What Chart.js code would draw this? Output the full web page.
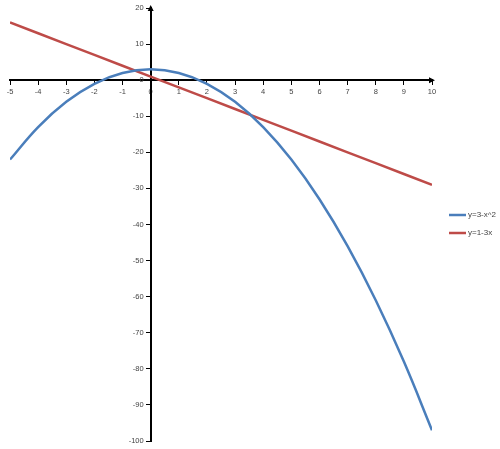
<!DOCTYPE html>
<html>
<head>
<meta charset="utf-8">
<script src="https://cdn.jsdelivr.net/npm/chart.js@4.4.1/dist/chart.umd.min.js"></script>
<style>
  html, body { margin: 0; padding: 0; background: #fff; }
  #wrap { width: 500px; height: 449px; }
</style>
</head>
<body>
<div id="wrap"><canvas id="chart"></canvas></div>
<script>
// values
const xValues = [-5, -4, -3, -2, -1, 0, 1, 2, 3, 4, 5, 6, 7, 8, 9, 10];
const parabola = [-22, -13, -6, -1, 2, 3, 2, -1, -6, -13, -22, -33, -46, -61, -78, -97];
const straight = [16, 13, 10, 7, 4, 1, -2, -5, -8, -11, -14, -17, -20, -23, -26, -29];
const seriesNames = ['y=3-x^2', 'y=1-3x'];
const xTicks = [-5, -4, -3, -2, -1, 0, 1, 2, 3, 4, 5, 6, 7, 8, 9, 10];
const yTicks = [20, 10, 0, -10, -20, -30, -40, -50, -60, -70, -80, -90, -100];

const BLUE = '#4a7ebb';
const RED = '#be4b48';
const TEXT = '#444';
const FONT = '7.5px "Liberation Sans", Arial, sans-serif';
const LEGEND_FONT = '8px "Liberation Sans", Arial, sans-serif';

const toPoints = (ys) => xValues.map((x, i) => ({ x: x, y: ys[i] }));

// arrow heads on both axes, y labels left of the crossing axis, legend on the right
const axisExtras = {
  id: 'axisExtras',
  afterDraw(chart) {
    const ctx = chart.ctx;
    const xs = chart.scales.x;
    const ys = chart.scales.y;
    const ox = xs.getPixelForValue(0);
    const oy = ys.getPixelForValue(0);
    const right = xs.getPixelForValue(xs.max);
    const top = ys.getPixelForValue(ys.max);
    ctx.save();
    ctx.fillStyle = '#000';
    ctx.beginPath();
    ctx.moveTo(right + 3, oy);
    ctx.lineTo(right - 3, oy - 3);
    ctx.lineTo(right - 3, oy + 3);
    ctx.closePath();
    ctx.fill();
    ctx.beginPath();
    ctx.moveTo(ox, top - 3);
    ctx.lineTo(ox - 3, top + 3);
    ctx.lineTo(ox + 3, top + 3);
    ctx.closePath();
    ctx.fill();

    ctx.fillStyle = TEXT;
    ctx.font = FONT;
    ctx.textAlign = 'right';
    ctx.textBaseline = 'middle';
    yTicks.forEach(v => {
      ctx.fillText(String(v), ox - 7, ys.getPixelForValue(v));
    });

    // legend
    const lx = chart.chartArea.right + 17;
    let ly = 215;
    ctx.font = LEGEND_FONT;
    ctx.textAlign = 'left';
    chart.data.datasets.forEach(ds => {
      ctx.strokeStyle = ds.borderColor;
      ctx.lineWidth = 2.5;
      ctx.beginPath();
      ctx.moveTo(lx, ly);
      ctx.lineTo(lx + 17, ly);
      ctx.stroke();
      ctx.fillStyle = TEXT;
      ctx.fillText(ds.label, lx + 19, ly);
      ly += 18;
    });
    ctx.restore();
  }
};

new Chart(document.getElementById('chart'), {
  type: 'scatter',
  data: {
    datasets: [
      {
        label: seriesNames[0],
        data: toPoints(parabola),
        borderColor: BLUE,
        backgroundColor: BLUE,
        borderWidth: 2.5,
        showLine: true,
        tension: 0.4,
        pointRadius: 0
      },
      {
        label: seriesNames[1],
        data: toPoints(straight),
        borderColor: RED,
        backgroundColor: RED,
        borderWidth: 2.5,
        showLine: true,
        tension: 0,
        pointRadius: 0
      }
    ]
  },
  options: {
    responsive: true,
    maintainAspectRatio: false,
    animation: false,
    layout: { padding: { left: 10, top: 8, bottom: 8, right: 68 } },
    scales: {
      x: {
        type: 'linear',
        position: { y: 0 },
        min: -5,
        max: 10,
        afterBuildTicks: (s) => { s.ticks = xTicks.map(v => ({ value: v })); },
        grid: { drawOnChartArea: false, drawTicks: true, tickLength: 4, color: '#000', lineWidth: 1 },
        border: { display: true, color: '#000', width: 2 },
        ticks: { color: TEXT, font: { family: 'Liberation Sans', size: 7.5 }, padding: 3, maxRotation: 0 }
      },
      y: {
        type: 'linear',
        position: { x: 0 },
        min: -100,
        max: 20,
        afterBuildTicks: (s) => { s.ticks = yTicks.map(v => ({ value: v })); },
        grid: { drawOnChartArea: false, drawTicks: true, tickLength: 4, color: '#000', lineWidth: 1 },
        border: { display: true, color: '#000', width: 2 },
        ticks: { display: false }
      }
    },
    plugins: {
      legend: { display: false },
      tooltip: { enabled: false }
    }
  },
  plugins: [axisExtras]
});
</script>
</body>
</html>
